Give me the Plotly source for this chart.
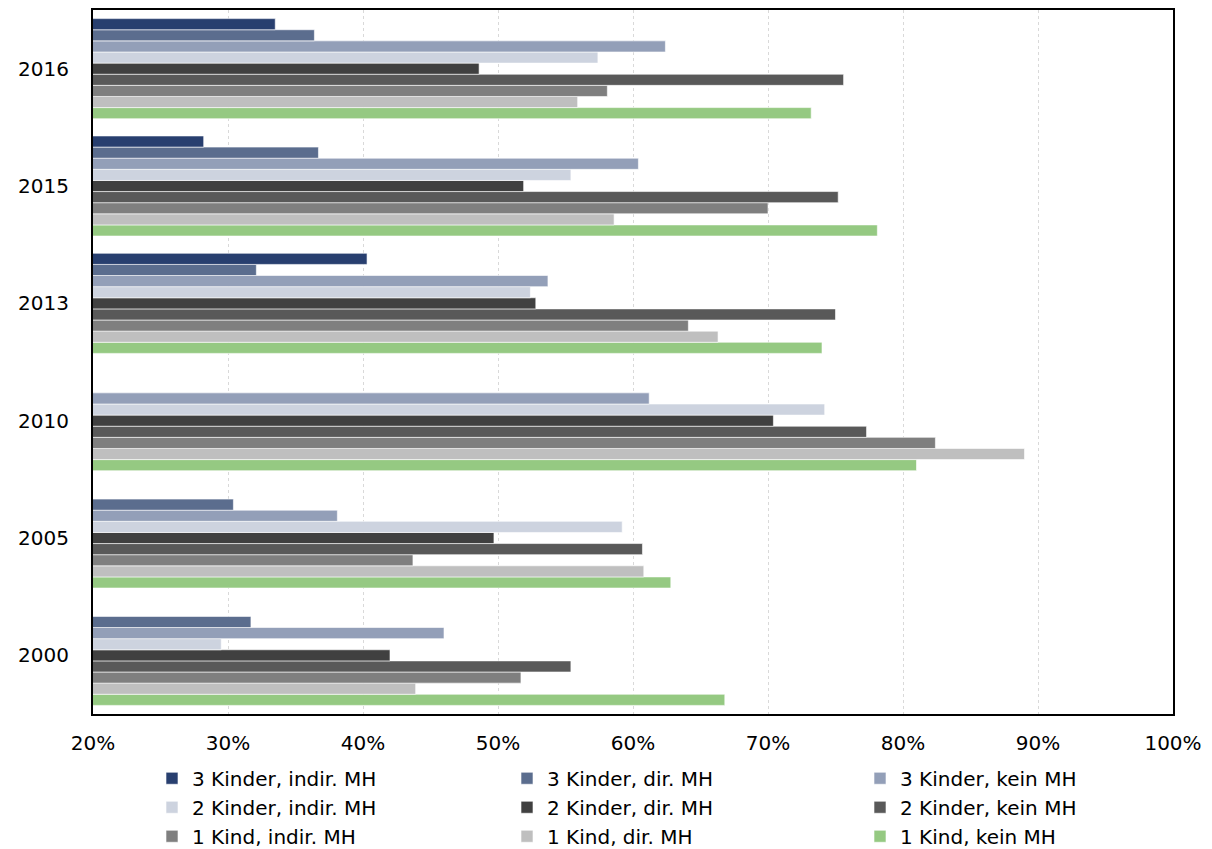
import plotly.graph_objects as go

years = ["2000", "2005", "2010", "2013", "2015", "2016"]

series_names = [
    "3 Kinder, indir. MH", "3 Kinder, dir. MH", "3 Kinder, kein MH",
    "2 Kinder, indir. MH", "2 Kinder, dir. MH", "2 Kinder, kein MH",
    "1 Kind, indir. MH", "1 Kind, dir. MH", "1 Kind, kein MH",
]

# values per series, ordered as years (2000, 2005, 2010, 2013, 2015, 2016)
k3_indir = [None, None, None, 40.3, 28.2, 33.5]
k3_dir = [31.7, 30.4, None, 32.1, 36.7, 36.4]
k3_kein = [46.0, 38.1, 61.2, 53.7, 60.4, 62.4]
k2_indir = [29.5, 59.2, 74.2, 52.4, 55.4, 57.4]
k2_dir = [42.0, 49.7, 70.4, 52.8, 51.9, 48.6]
k2_kein = [55.4, 60.7, 77.3, 75.0, 75.2, 75.6]
k1_indir = [51.7, 43.7, 82.4, 64.1, 70.0, 58.1]
k1_dir = [43.9, 60.8, 89.0, 66.3, 58.6, 55.9]
k1_kein = [66.8, 62.8, 81.0, 74.0, 78.1, 73.2]

series_values = [k3_indir, k3_dir, k3_kein, k2_indir, k2_dir, k2_kein,
                 k1_indir, k1_dir, k1_kein]

colors = ["#283f6f", "#5b6d8e", "#939fb8", "#cdd3df", "#404040",
          "#595959", "#7f7f7f", "#bfbfbf", "#95c982"]

legend_ids = ["legend", "legend2", "legend3"] * 3

fig = go.Figure()
# add in reverse so that the first series is drawn at the top of each group
for name, vals, col, lg in reversed(list(zip(series_names, series_values, colors, legend_ids))):
    fig.add_trace(go.Bar(
        y=years, x=vals, name=name, orientation="h",
        marker=dict(color=col, line=dict(color="white", width=0.6)),
        legend=lg,
    ))

font_family = "DejaVu Sans, Verdana, sans-serif"

legend_common = dict(
    orientation="v",
    traceorder="reversed",
    xref="container", yref="container",
    xanchor="left", yanchor="top",
    y=0.1063,
    font=dict(size=20, family=font_family, color="#000000"),
    itemwidth=30,
    tracegroupgap=0,
    bgcolor="rgba(0,0,0,0)",
)

fig.update_layout(
    barmode="group",
    bargap=0.147,
    bargroupgap=0,
    width=1212, height=849,
    margin=dict(l=93, r=39, t=10, b=135, autoexpand=False),
    paper_bgcolor="white",
    plot_bgcolor="white",
    font=dict(family=font_family, size=20, color="#000000"),
    xaxis=dict(
        range=[20, 100],
        dtick=10,
        tick0=20,
        ticksuffix="%",
        showgrid=True,
        gridcolor="#d9d9d9",
        griddash="dot",
        gridwidth=1,
        zeroline=False,
        showline=True,
        linecolor="black",
        linewidth=2,
        mirror=True,
        ticks="",
        ticklabelstandoff=10,
        automargin=False,
    ),
    yaxis=dict(
        type="category",
        categoryorder="array",
        categoryarray=years,
        showline=True,
        linecolor="black",
        linewidth=2,
        mirror=True,
        ticks="",
        showgrid=False,
        ticklabelstandoff=18,
        automargin=False,
    ),
    legend=dict(legend_common, x=152 / 1212),
    legend2=dict(legend_common, x=507 / 1212),
    legend3=dict(legend_common, x=860 / 1212),
)

fig.write_html(
    "out.html",
    config={"displayModeBar": False},
    post_script="document.body.style.margin='0';document.body.style.overflow='hidden';",
)
